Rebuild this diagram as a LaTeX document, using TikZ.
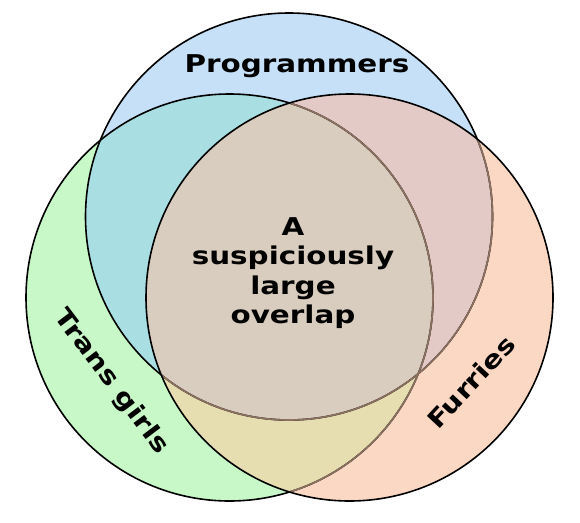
\documentclass[tikz,border=0pt]{standalone}
\usepackage{xcolor}
\usepackage{fontspec}
\setmainfont{DejaVu Sans}
\definecolor{pblue}{HTML}{C6E0F8}
\definecolor{tgreen}{HTML}{C8F8C8}
\definecolor{forange}{HTML}{FBD8C4}
\definecolor{pteal}{HTML}{A9DFE3}
\definecolor{ppink}{HTML}{E4CAC6}
\definecolor{tyellow}{HTML}{E6DEB0}
\definecolor{mbrown}{HTML}{D8CDBE}
\definecolor{mline}{HTML}{8C7060}
\usepackage{tikz}
\usetikzlibrary{calc}

\tikzset{
  ring/.style={line width=1.6pt, black},
  innerring/.style={line width=1.6pt, mline},
  setname/.style={font=\fontsize{24.5}{29.5}\selectfont\bfseries, rotate=#1, xscale=1.2, transform shape, align=center},
  setname/.default=0
}

\begin{document}
\begin{tikzpicture}[x=1pt,y=-1pt]
            % Define parameters
            \def\R{203.5pt}   % Radius of each circle

            % Page frame
            \useasboundingbox (0,0) rectangle (580,522);
            \fill[white] (0,0) rectangle (580,522);

            % Centres of the three sets
            \coordinate (P) at (289,216.5);
            \coordinate (T) at (229.5,297.5);
            \coordinate (F) at (349.5,297.5);

            % Fill the single sets
            \fill[pblue] (P) circle (\R);
            \fill[tgreen] (T) circle (\R);
            \fill[forange] (F) circle (\R);

            % Fill the overlaps
            \begin{scope}
              \clip (P) circle (\R);
              \fill[pteal] (T) circle (\R);
              \fill[ppink] (F) circle (\R);
            \end{scope}
            \begin{scope}
              \clip (T) circle (\R);
              \fill[tyellow] (F) circle (\R);
              \clip (P) circle (\R);
              \fill[mbrown] (F) circle (\R);
            \end{scope}

            % Outlines, the ones under the last set a bit faded
            \draw[ring] (P) circle (\R);
            \draw[ring] (T) circle (\R);
            \begin{scope}
              \clip (F) circle (\R);
              \draw[innerring] (P) circle (\R);
              \draw[innerring] (T) circle (\R);
            \end{scope}
            \draw[ring] (F) circle (\R);

            % Labels of the sets
            \node[setname] (prog) at (297,66) {Programmers};
            \node[setname=-53] (trans) at (111,382) {Trans girls};
            \node[setname=47] (furry) at (471,382) {Furries};
            \node[setname] (mid) at (293,273) {A\\suspiciously\\large\\overlap};
          \end{tikzpicture}
\end{document}
